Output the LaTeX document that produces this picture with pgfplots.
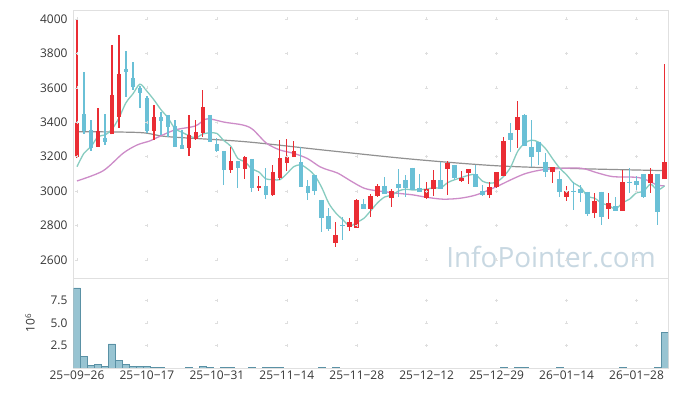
\documentclass[border=0pt]{standalone}
\usepackage{pgfplots}
\pgfplotsset{compat=1.18}
\usepackage{pgfplotstable}
\usepackage{fontspec}
\setmainfont{Open Sans}
\definecolor{cred}{RGB}{234,45,52}
\definecolor{cblue}{RGB}{106,192,214}
\definecolor{ma5}{RGB}{135,204,192}
\definecolor{ma20}{RGB}{205,140,200}
\definecolor{ma60}{RGB}{145,145,145}
\definecolor{volfill}{RGB}{152,196,210}
\definecolor{voledge}{RGB}{90,145,165}
\definecolor{framecol}{RGB}{224,224,224}
\definecolor{gridcol}{RGB}{222,222,222}
\definecolor{tickcol}{RGB}{55,55,55}
\definecolor{wm}{RGB}{200,216,226}

\pgfplotstableread{
i o h l c
0 3200 3995 3190 3395
3 3258 3481 3258 3349
5 3330 3849 3330 3558
6 3432 3907 3365 3680
11 3350 3500 3297 3429
16 3250 3442 3204 3326
17 3301 3413 3297 3343
18 3340 3588 3316 3487
22 3120 3254 3107 3175
24 3129 3204 3069 3197
26 3020 3088 3003 3030
28 2975 3152 2974 3111
29 3078 3297 3063 3192
30 3165 3301 3119 3198
31 3197 3293 3197 3233
37 2701 2822 2677 2745
39 2794 2846 2768 2819
40 2788 2955 2788 2949
42 2898 2983 2852 2972
43 2972 3041 2968 3030
45 2958 3010 2906 3001
50 2962 3051 2954 3010
51 3010 3123 2974 3065
53 3127 3175 2978 3165
55 3061 3117 3055 3078
56 3104 3129 3040 3129
59 2975 3055 2958 3022
60 3022 3111 3020 3111
61 3090 3313 3090 3291
63 3355 3525 3249 3429
68 3109 3138 3045 3138
70 2968 3030 2944 3001
74 2871 2991 2846 2943
76 2896 2991 2838 2929
78 2886 3123 2886 3051
82 3049 3133 2987 3098
84 3069 3737 3069 3167
}\redtab

\pgfplotstableread{
i o h l c
1 3446 3694 3330 3350
2 3355 3413 3233 3250
4 3310 3448 3268 3288
7 3710 3814 3549 3690
8 3655 3748 3588 3607
9 3600 3610 3481 3572
10 3543 3552 3336 3350
12 3430 3462 3326 3405
13 3442 3442 3316 3375
14 3378 3413 3258 3258
15 3268 3355 3245 3245
19 3442 3442 3287 3287
20 3274 3307 3229 3230
21 3233 3233 3036 3120
23 3175 3175 3016 3133
25 3187 3187 2997 3020
27 3030 3133 2956 2975
32 3169 3258 3026 3026
33 3030 3065 2949 2991
34 3094 3094 2978 3003
35 2949 2949 2761 2846
36 2856 2900 2770 2781
38 2802 2852 2716 2795
41 2925 2954 2896 2896
44 3030 3080 2983 2983
46 3040 3127 2968 3020
47 3065 3092 2968 3020
48 3136 3136 3006 3006
49 3016 3098 2997 2997
52 3065 3167 3010 3010
54 3152 3152 3065 3078
57 3098 3152 3026 3026
58 3001 3036 2974 2975
62 3340 3398 3229 3297
64 3442 3448 3264 3264
65 3258 3413 3138 3200
66 3287 3287 3152 3229
67 3171 3220 3080 3109
69 3070 3119 2964 2993
71 3001 3051 2890 2994
72 3010 3036 2939 2991
73 2997 2997 2857 2868
75 2997 2997 2803 2852
77 2914 2968 2886 2886
79 3055 3136 2987 3049
80 3059 3088 2987 3036
81 3100 3100 2958 2968
83 3100 3100 2800 2881
}\bluetab

\pgfplotstableread{
i v
0 3142
1 3220
2 3258
3 3316
4 3326
5 3359
6 3425
7 3513
8 3565
9 3621
10 3580
11 3530
12 3473
13 3426
14 3363
15 3342
16 3322
17 3309
18 3332
19 3338
20 3335
21 3293
22 3260
23 3189
24 3171
25 3129
26 3111
27 3071
28 3067
29 3066
30 3101
31 3142
32 3152
33 3128
34 3090
35 3020
36 2929
37 2873
38 2834
39 2797
40 2818
41 2841
42 2886
43 2933
44 2966
45 2976
46 3001
47 3011
48 3006
49 3009
50 3011
51 3020
52 3018
53 3049
54 3066
55 3079
56 3092
57 3095
58 3057
59 3046
60 3053
61 3085
62 3139
63 3230
64 3278
65 3296
66 3284
67 3246
68 3188
69 3134
70 3094
71 3047
72 3023
73 2969
74 2959
75 2930
76 2917
77 2896
78 2932
79 2953
80 2990
81 2998
82 3040
83 3006
84 3030
}\mafive

\pgfplotstableread{
i v
0 3059
3.7 3117
6.6 3220
8.6 3268
10.4 3291
11.4 3310
14 3355
16.9 3378
18.3 3417
19.3 3417
21.1 3400
23.7 3384
25.1 3359
27.1 3278
29 3239
30.9 3220
32.9 3190
34.7 3142
35.9 3123
37.3 3104
39.3 3055
41.1 3016
43 3001
45.9 2987
48 2978
50 2964
52.3 2953
54.7 2958
57.1 2978
60 3026
62 3065
64 3100
66 3120
68 3129
72 3133
74.3 3107
76.6 3084
80 3080
81.4 3065
82.9 3036
84 3030
}\matwenty

\pgfplotstableread{
i v
0 3345
9 3340
13 3316
24 3287
36 3235
48 3185
60 3147
72 3130
84 3119
}\masixty

\pgfplotstableread{
i v
0 8.9
1 1.29
2 0.3
3 0.4
4 0.18
5 2.68
6 0.84
7 0.4
8 0.2
9 0.2
10 0.2
11 0.08
12 0.08
16 0.08
18 0.2
19 0.08
21 0.08
22 0.08
25 0.08
27 0.08
28 0.08
29 0.08
35 0.08
37 0.08
61 0.08
63 0.08
64 0.08
69 0.08
78 0.08
83 0.1
84 3.95
}\voltab

\pgfplotsset{
  candle/.style n args={3}{draw=none, no markers, forget plot,
    error bars/.cd, y dir=#3, y explicit, error mark=none,
    error bar style={line width=#1, draw=#2, solid}},
}

\begin{document}
\begin{tikzpicture}
\fill[white] (0,0) rectangle (677bp,396bp);
\node[text=wm, font=\fontsize{28}{30}\selectfont] at (551bp,139bp) {InfoPointer.com};
\begin{axis}[
  at={(73.5bp,386bp)}, anchor=north west,
  scale only axis, width=594.5bp, height=268bp,
  xmin=-0.5, xmax=84.5, ymin=2495, ymax=4052,
  axis line style={framecol},
  xtick=\empty,
  ytick={2600,2800,...,4000},
  major tick length=0pt,
  /pgf/number format/assume math mode=true,
  /pgf/number format/1000 sep={},
  yticklabel style={font=\fontsize{12}{14}\selectfont, text=tickcol, xshift=-2.5bp},
]
\addplot[only marks, mark=+, mark size=1.5bp, color=gridcol, line width=0.5bp, forget plot] coordinates {
(0,4000)(10,4000)(20,4000)(30,4000)(40,4000)(50,4000)(60,4000)(70,4000)(80,4000)
(0,3800)(10,3800)(20,3800)(30,3800)(40,3800)(50,3800)(60,3800)(70,3800)(80,3800)
(0,3600)(10,3600)(20,3600)(30,3600)(40,3600)(50,3600)(60,3600)(70,3600)(80,3600)
(0,3400)(10,3400)(20,3400)(30,3400)(40,3400)(50,3400)(60,3400)(70,3400)(80,3400)
(0,3200)(10,3200)(20,3200)(30,3200)(40,3200)(50,3200)(60,3200)(70,3200)(80,3200)
(0,3000)(10,3000)(20,3000)(30,3000)(40,3000)(50,3000)(60,3000)(70,3000)(80,3000)
(0,2800)(10,2800)(20,2800)(30,2800)(40,2800)(50,2800)(60,2800)(70,2800)(80,2800)
(0,2600)(10,2600)(20,2600)(30,2600)(40,2600)(50,2600)(60,2600)(70,2600)(80,2600)
};
\addplot[smooth, ma60, line width=1.2bp] table[x=i,y=v] {\masixty};
\addplot[smooth, ma20, line width=1.3bp] table[x=i,y=v] {\matwenty};
\addplot[smooth, ma5, line width=1.3bp] table[x=i,y=v] {\mafive};
\addplot[candle={1.2bp}{cred}{both}]
  table[x=i, y=o, y error plus expr=\thisrow{h}-\thisrow{o}, y error minus expr=\thisrow{o}-\thisrow{l}] {\redtab};
\addplot[candle={1.2bp}{cblue}{both}]
  table[x=i, y=o, y error plus expr=\thisrow{h}-\thisrow{o}, y error minus expr=\thisrow{o}-\thisrow{l}] {\bluetab};
\addplot[candle={4.6bp}{cred}{plus}]
  table[x=i, y=o, y error plus expr=\thisrow{c}-\thisrow{o}] {\redtab};
\addplot[candle={4.6bp}{cblue}{minus}]
  table[x=i, y=o, y error minus expr=\thisrow{o}-\thisrow{c}] {\bluetab};
\end{axis}

\begin{axis}[
  at={(73.5bp,118bp)}, anchor=north west,
  scale only axis, width=594.5bp, height=90bp,
  xmin=-0.5, xmax=84.5, ymin=0, ymax=10,
  axis line style={framecol},
  xtick={0,10,...,80},
  xticklabels={25−09−26,25−10−17,25−10−31,25−11−14,25−11−28,25−12−12,25−12−29,26−01−14,26−01−28},
  ytick={2.5,5,7.5},
  yticklabels={2.5,5.0,7.5},
  major tick length=0pt,
  yticklabel style={font=\fontsize{12}{14}\selectfont, text=tickcol, xshift=-2.5bp},
  xticklabel style={font=\fontsize{12}{14}\selectfont, text=tickcol, yshift=1bp},
  ylabel={10\raisebox{0.55ex}{\fontsize{8}{9}\selectfont 6}},
  ylabel style={at={(axis description cs:-0.0732,0.5)}, anchor=center, font=\fontsize{12}{14}\selectfont, text=tickcol},
]
\addplot[only marks, mark=+, mark size=1.5bp, color=gridcol, line width=0.5bp, forget plot] coordinates {
(10,7.5)(20,7.5)(30,7.5)(40,7.5)(50,7.5)(60,7.5)(70,7.5)(80,7.5)
(10,5)(20,5)(30,5)(40,5)(50,5)(60,5)(70,5)(80,5)
(10,2.5)(20,2.5)(30,2.5)(40,2.5)(50,2.5)(60,2.5)(70,2.5)(80,2.5)
};
\addplot[ybar, bar width=6.99bp, fill=volfill, draw=voledge, line width=0.5bp] table[x=i,y=v] {\voltab};
\end{axis}
\pgfresetboundingbox
\path[use as bounding box] (0,0) rectangle (677bp,396bp);
\end{tikzpicture}
\end{document}
